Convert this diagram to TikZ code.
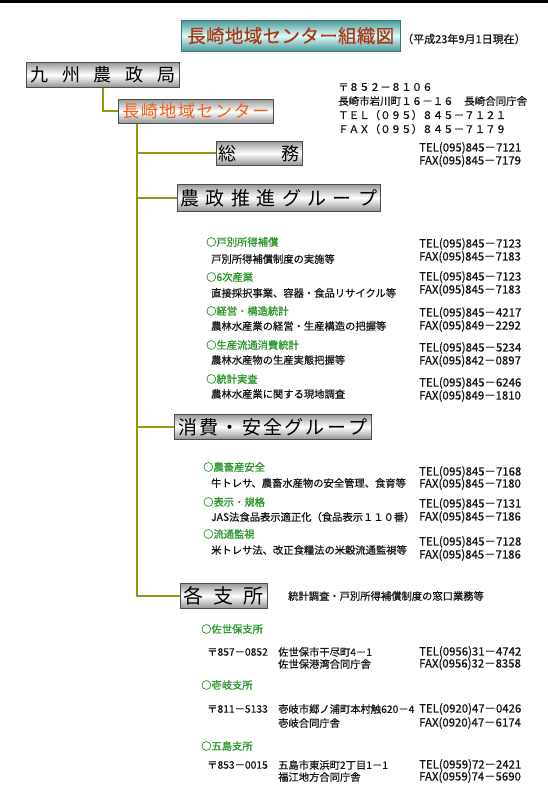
\documentclass[tikz,border=0pt]{standalone}
\usepackage{fontspec}
\setmainfont{Noto Sans CJK JP}
\newfontfamily\jpmed{Noto Sans CJK JP}[FakeBold=0.6]
\newfontfamily\jphead{Noto Sans CJK JP}[FakeBold=1.0]
\definecolor{olivec}{RGB}{150,150,20}
\definecolor{greenc}{RGB}{40,150,40}
\definecolor{orangec}{RGB}{245,95,20}
\definecolor{titlec}{RGB}{170,55,20}
\definecolor{tealdark}{RGB}{75,150,150}
\definecolor{teallight}{RGB}{220,252,252}
\definecolor{textc}{RGB}{20,20,20}
\newcommand{\fsBody}{\jpmed\fontsize{10.3pt}{12pt}\selectfont}
\newcommand{\fsHead}{\jphead\fontsize{10.3pt}{12pt}\selectfont}
\newcommand{\fsTel}{\jpmed\fontsize{11.4pt}{12pt}\selectfont}
\newcommand{\fsAddr}{\jpmed\fontsize{10.5pt}{12pt}\selectfont}
\newcommand{\sprd}[2]{\makebox[#1][s]{#2}}
\newcommand{\hf}{\hfill}
\begin{document}
\begin{tikzpicture}[x=1pt,y=-1pt,
  graybox/.style={draw=gray!60!black, line width=0.6pt, top color=gray!80, bottom color=gray!85, middle color=white, inner sep=0pt, anchor=north west, text=black},
  titlebox/.style={draw=tealdark!80!black, line width=0.5pt, top color=tealdark, bottom color=tealdark, middle color=teallight, inner sep=0pt, anchor=north west},
  conn/.style={draw=olivec, line width=1.8pt},
  txt/.style={anchor=west, inner sep=0pt, font=\fsBody, text=textc},
  tel/.style={anchor=west, inner sep=0pt, font=\fsTel, text=textc},
  addr/.style={anchor=west, inner sep=0pt, font=\fsAddr, text=textc},
  head/.style={anchor=west, inner sep=0pt, font=\fsHead, text=greenc}]
\useasboundingbox (0,0) rectangle (548,800);
\fill[white] (0,0) rectangle (548,800);
\fill[black] (0,0) rectangle (548,2.8);
% title
\node[titlebox, minimum width=219pt, minimum height=31pt, font=\jpmed\fontsize{18.5pt}{20pt}\selectfont, text=titlec] (title) at (181,20) {\sprd{207pt}{長\hf{}崎\hf{}地\hf{}域\hf{}セ\hf{}ン\hf{}タ\hf{}ー\hf{}組\hf{}織\hf{}図}};
\node[anchor=west, inner sep=0pt, font=\jpmed\fontsize{11pt}{12pt}\selectfont, text=textc] (date) at (402,39) {（平成23年9月1日現在）};
% boxes
\node[graybox, minimum width=153pt, minimum height=25pt, font=\fontsize{18pt}{20pt}\selectfont] (kyushu) at (26,62) {\sprd{145pt}{九\hf{}州\hf{}農\hf{}政\hf{}局}};
\node[graybox, minimum width=155pt, minimum height=24pt, font=\fontsize{17pt}{19pt}\selectfont, text=orangec] (center) at (118,99) {\sprd{147pt}{長\hf{}崎\hf{}地\hf{}域\hf{}セ\hf{}ン\hf{}タ\hf{}ー}};
\node[graybox, minimum width=86pt, minimum height=24pt, font=\fontsize{18pt}{20pt}\selectfont] (soumu) at (216,141) {\sprd{81pt}{総\hf{}務}};
\node[graybox, minimum width=203pt, minimum height=27pt, font=\fontsize{19pt}{21pt}\selectfont] (nousei) at (177,184) {\sprd{197pt}{農\hf{}政\hf{}推\hf{}進\hf{}グ\hf{}ル\hf{}ー\hf{}プ}};
\node[graybox, minimum width=197pt, minimum height=25pt, font=\fontsize{19pt}{21pt}\selectfont] (shohi) at (174,414) {\sprd{189pt}{消\hf{}費\hf{}・\hf{}安\hf{}全\hf{}グ\hf{}ル\hf{}ー\hf{}プ}};
\node[graybox, minimum width=87pt, minimum height=25pt, font=\fontsize{20pt}{22pt}\selectfont] (kakushi) at (180,583) {\sprd{80pt}{各\hf{}支\hf{}所}};
% connectors
\coordinate (k0) at ([xshift=77pt]kyushu.south west);
\draw[conn] (k0) |- (center.west);
\coordinate (c0) at ([xshift=19pt]center.south west);
\draw[conn] (c0) |- (soumu.west);
\draw[conn] (c0) |- (nousei.west);
\draw[conn] (c0) |- (shohi.west);
\draw[conn] (c0) |- (kakushi.west);
% address
\node[addr] (a1) at (338,87) {〒８５２－８１０６};
\node[addr] (a2) at (338,101) {長崎市岩川町１６－１６　長崎合同庁舎};
\node[addr] (a3) at (338,115) {ＴＥＬ（０９５）８４５－７１２１};
\node[addr] (a4) at (338,129) {ＦＡＸ（０９５）８４５－７１７９};
% soumu tel
\node[tel] (st) at (419,148) {TEL(095)845－7121};
\node[tel] (sf) at (419,161) {FAX(095)845－7179};
% group 1
\node[head] (h11) at (206,242) {○戸別所得補償};
\node[txt] (d11) at (211,259) {戸別所得補償制度の実施等};
\node[tel] (t11) at (419,244) {TEL(095)845－7123};
\node[tel] (f11) at (419,257) {FAX(095)845－7183};
\node[head] (h12) at (206,277) {○6次産業};
\node[txt] (d12) at (211,293) {直接採択事業、容器・食品リサイクル等};
\node[tel] (t12) at (419,277) {TEL(095)845－7123};
\node[tel] (f12) at (419,290) {FAX(095)845－7183};
\node[head] (h13) at (206,311) {○経営・構造統計};
\node[txt] (d13) at (211,326) {農林水産業の経営・生産構造の把握等};
\node[tel] (t13) at (419,313) {TEL(095)845－4217};
\node[tel] (f13) at (419,326) {FAX(095)849－2292};
\node[head] (h14) at (206,345) {○生産流通消費統計};
\node[txt] (d14) at (211,360) {農林水産物の生産実態把握等};
\node[tel] (t14) at (419,348) {TEL(095)845－5234};
\node[tel] (f14) at (419,361) {FAX(095)842－0897};
\node[head] (h15) at (206,379) {○統計実査};
\node[txt] (d15) at (211,394) {農林水産業に関する現地調査};
\node[tel] (t15) at (419,383) {TEL(095)845－6246};
\node[tel] (f15) at (419,396) {FAX(095)849－1810};
% group 2
\node[head] (h21) at (203,467) {○農畜産安全};
\node[txt] (d21) at (211,483) {牛トレサ、農畜水産物の安全管理、食育等};
\node[tel] (t21) at (419,472) {TEL(095)845－7168};
\node[tel] (f21) at (419,484) {FAX(095)845－7180};
\node[head] (h22) at (203,502) {○表示・規格};
\node[txt] (d22) at (211,517) {JAS法食品表示適正化（食品表示１１０番）};
\node[tel] (t22) at (419,504) {TEL(095)845－7131};
\node[tel] (f22) at (419,517) {FAX(095)845－7186};
\node[head] (h23) at (203,534) {○流通監視};
\node[txt] (d23) at (211,550) {米トレサ法、改正食糧法の米穀流通監視等};
\node[tel] (t23) at (419,542) {TEL(095)845－7128};
\node[tel] (f23) at (419,555) {FAX(095)845－7186};
% branches
\node[txt] (kn) at (288,596) {統計調査・戸別所得補償制度の窓口業務等};
\node[head] (b1) at (201,629) {○佐世保支所};
\node[txt] (p1) at (207,652) {〒857－0852};
\node[txt] (ad1) at (278,652) {佐世保市干尽町4－1};
\node[txt] (ae1) at (278,664) {佐世保港湾合同庁舎};
\node[tel] (bt1) at (419,652) {TEL(0956)31－4742};
\node[tel] (bf1) at (419,664) {FAX(0956)32－8358};
\node[head] (b2) at (201,685) {○壱岐支所};
\node[txt] (p2) at (207,709) {〒811－5133};
\node[txt] (ad2) at (278,709) {壱岐市郷ノ浦町本村触620－4};
\node[txt] (ae2) at (278,723) {壱岐合同庁舎};
\node[tel] (bt2) at (419,709) {TEL(0920)47－0426};
\node[tel] (bf2) at (419,723) {FAX(0920)47－6174};
\node[head] (b3) at (201,746) {○五島支所};
\node[txt] (p3) at (207,765) {〒853－0015};
\node[txt] (ad3) at (278,765) {五島市東浜町2丁目1－1};
\node[txt] (ae3) at (278,777) {福江地方合同庁舎};
\node[tel] (bt3) at (419,765) {TEL(0959)72－2421};
\node[tel] (bf3) at (419,777) {FAX(0959)74－5690};
\end{tikzpicture}
\end{document}
